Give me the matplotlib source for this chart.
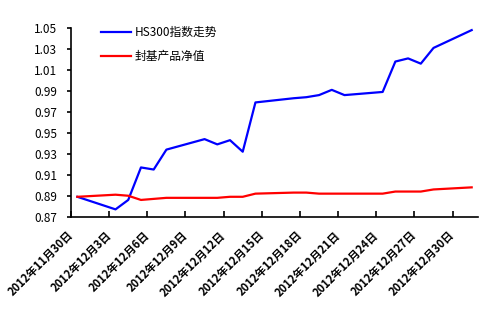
import matplotlib
matplotlib.use('Agg')
import matplotlib.pyplot as plt
import pandas as pd

plt.rcParams['font.family'] = ['Noto Sans CJK SC', 'DejaVu Sans']

# trading days and values
dates = ['2012-11-30', '2012-12-03', '2012-12-04', '2012-12-05', '2012-12-06',
         '2012-12-07', '2012-12-10', '2012-12-11', '2012-12-12', '2012-12-13',
         '2012-12-14', '2012-12-17', '2012-12-18', '2012-12-19', '2012-12-20',
         '2012-12-21', '2012-12-24', '2012-12-25', '2012-12-26', '2012-12-27',
         '2012-12-28', '2012-12-31']
hs300 = [0.889, 0.877, 0.886, 0.917, 0.915, 0.934, 0.944, 0.939, 0.943, 0.932,
         0.979, 0.983, 0.984, 0.986, 0.991, 0.986, 0.989, 1.018, 1.021, 1.016,
         1.031, 1.048]
fund = [0.889, 0.891, 0.890, 0.886, 0.887, 0.888, 0.888, 0.888, 0.889, 0.889,
        0.892, 0.893, 0.893, 0.892, 0.892, 0.892, 0.892, 0.894, 0.894, 0.894,
        0.896, 0.898]

xlabels = ['2012年11月30日', '2012年12月3日', '2012年12月6日', '2012年12月9日',
           '2012年12月12日', '2012年12月15日', '2012年12月18日', '2012年12月21日',
           '2012年12月24日', '2012年12月27日', '2012年12月30日']
yticks = [0.87, 0.89, 0.91, 0.93, 0.95, 0.97, 0.99, 1.01, 1.03, 1.05]

start = pd.Timestamp('2012-11-30')
# each calendar day is one slot, points sit in the middle of it
x = [(pd.Timestamp(d) - start).days + 0.5 for d in dates]

fig = plt.figure(figsize=(4.84, 3.16), dpi=100)
ax = fig.add_axes([0.1467, 0.3142, 0.841, 0.5972])

ax.plot(x, hs300, color='#0000ff', lw=1.6, label='HS300指数走势')
ax.plot(x, fund, color='#ff0000', lw=1.6, label='封基产品净值')

ax.set_xlim(0, 32)
ax.set_ylim(0.87, 1.05)
ax.set_yticks(yticks)
ax.set_yticklabels(['%.2f' % v for v in yticks], fontsize=8.5)
ax.set_xticks(range(0, 31, 3))
ax.set_xticklabels(xlabels, fontsize=8, fontweight='bold', rotation=45,
                   ha='right', va='center', rotation_mode='anchor')

for s in ['top', 'right']:
    ax.spines[s].set_visible(False)
for s in ['left', 'bottom']:
    ax.spines[s].set_linewidth(1.2)
ax.tick_params(axis='x', direction='in', length=4, width=1.2, pad=12)
ax.tick_params(axis='y', direction='out', length=3, width=1.2, pad=7)

ax.legend(loc='upper left', bbox_to_anchor=(0.074, 1.01), frameon=False,
          borderpad=0, borderaxespad=0, handlelength=2.5, handletextpad=0.35,
          labelspacing=0.9, prop={'size': 8.5})

fig.savefig('out.png', dpi=100)
